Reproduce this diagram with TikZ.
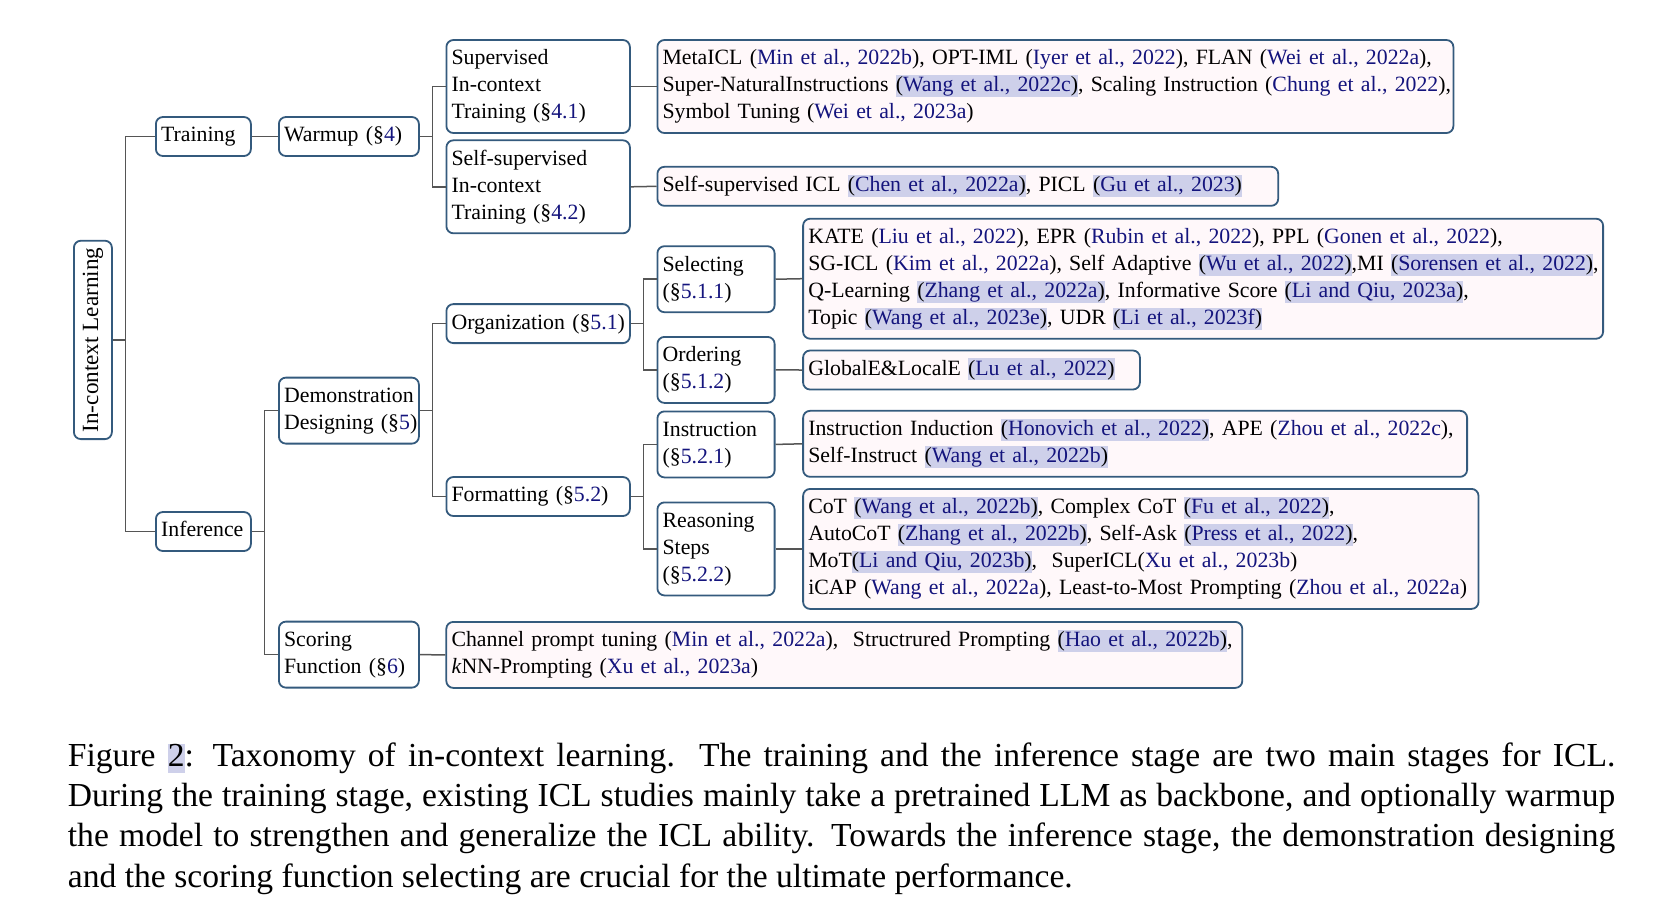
\documentclass[tikz,border=0pt]{standalone}
\usepackage{fontspec}
\setmainfont{Liberation Serif}
\usepackage{xcolor}
\definecolor{boxline}{RGB}{52,90,125}
\definecolor{linkgrey}{RGB}{85,85,85}
\definecolor{leafpink}{RGB}{255,248,250}
\definecolor{citeblue}{RGB}{20,20,125}
\definecolor{hlblue}{RGB}{206,208,234}
\setlength{\fboxsep}{0pt}
% citations, plain and highlighted, and section links
\newcommand{\cit}[1]{(\textcolor{citeblue}{#1})}
\newcommand{\hcit}[1]{\colorbox{hlblue}{\rule[-2.5pt]{0pt}{11pt}(\textcolor{citeblue}{#1})}}
\newcommand{\sect}[1]{(\S\textcolor{citeblue}{#1})}
\newcommand{\rows}[1]{\begin{tabular}{@{}l@{}}#1\end{tabular}}
\begin{document}
\begin{tikzpicture}[x=0.5pt, y=-0.5pt,
  midbox/.style={draw=boxline, line width=0.9pt, rounded corners=3.5pt, fill=white, align=left, anchor=west,
    inner xsep=2.6pt, inner ysep=3pt, font=\fontsize{10.9}{13.5}\selectfont},
  leaf/.style={midbox, fill=leafpink},
  branch/.style={draw=linkgrey, line width=0.75pt}]
\useasboundingbox (0,0) rectangle (1655,912);
% Draw the root, turned on its side
\draw (92.9,339.9) node[midbox, anchor=center, rotate=90, minimum width=99.2pt, minimum height=19pt,
  inner ysep=0pt, font=\fontsize{11.6}{13.5}\selectfont] (icl) {In-context Learning};
% Stages
\draw (155,136.5) node[midbox, text width=42.3pt] (train) {\rows{Training}};
\draw (155,531.5) node[midbox, text width=42.3pt] (infer) {\rows{Inference}};
\draw (278,136.5) node[midbox, text width=64.8pt] (warm) {\rows{Warmup \sect{4}}};
\draw (278,410.6) node[midbox, text width=64.8pt] (demo) {\rows{Demonstration\\Designing \sect{5}}};
\draw (278,654.6) node[midbox, text width=64.8pt] (score) {\rows{Scoring\\Function \sect{6}}};
% Third level
\draw (445.5,86.5) node[midbox, text width=86.55pt] (sup) {\rows{Supervised\\In-context\\Training \sect{4.1}}};
\draw (445.5,186.8) node[midbox, text width=86.55pt] (ssup) {\rows{Self-supervised\\In-context\\Training \sect{4.2}}};
\draw (445.5,323.6) node[midbox, text width=86.55pt] (org) {\rows{Organization \sect{5.1}}};
\draw (445.5,496.5) node[midbox, text width=86.55pt] (fmt) {\rows{Formatting \sect{5.2}}};
% Fourth level
\draw (656.5,279.2) node[midbox, text width=53.4pt] (sel) {\rows{Selecting\\\sect{5.1.1}}};
\draw (656.5,369.9) node[midbox, text width=53.4pt] (ord) {\rows{Ordering\\\sect{5.1.2}}};
\draw (656.5,444.4) node[midbox, text width=53.4pt] (ins) {\rows{Instruction\\\sect{5.2.1}}};
\draw (656.5,548.9) node[midbox, text width=53.4pt] (rea) {\rows{Reasoning\\Steps\\\sect{5.2.2}}};
% The leaves with the works
\draw (656.5,86.5) node[leaf, text width=392.8pt] (lsup) {\rows{MetaICL \cit{Min et al., 2022b}, OPT-IML \cit{Iyer et al., 2022}, FLAN \cit{Wei et al., 2022a},\\
  Super-NaturalInstructions \hcit{Wang et al., 2022c}, Scaling Instruction \cit{Chung et al., 2022},\\
  Symbol Tuning \cit{Wei et al., 2023a}}};
\draw (656.5,186.3) node[leaf, text width=305.2pt] (lssup) {\rows{Self-supervised ICL \hcit{Chen et al., 2022a}, PICL \hcit{Gu et al., 2023}}};
\draw (802.2,278.7) node[leaf, text width=394.8pt] (lsel) {\rows{KATE \cit{Liu et al., 2022}, EPR \cit{Rubin et al., 2022}, PPL \cit{Gonen et al., 2022},\\
  SG-ICL \cit{Kim et al., 2022a}, Self Adaptive \hcit{Wu et al., 2022},MI \hcit{Sorensen et al., 2022},\\
  Q-Learning \hcit{Zhang et al., 2022a}, Informative Score \hcit{Li and Qiu, 2023a},\\
  Topic \hcit{Wang et al., 2023e}, UDR \hcit{Li et al., 2023f}}};
\draw (802.2,370) node[leaf, text width=163.2pt] (lord) {\rows{GlobalE\&LocalE \hcit{Lu et al., 2022}}};
\draw (802.2,443.8) node[leaf, text width=326.8pt] (lins) {\rows{Instruction Induction \hcit{Honovich et al., 2022}, APE \cit{Zhou et al., 2022c},\\
  Self-Instruct \hcit{Wang et al., 2022b}}};
\draw (802.2,548.9) node[leaf, text width=332.5pt] (lrea) {\rows{CoT \hcit{Wang et al., 2022b}, Complex CoT \hcit{Fu et al., 2022},\\
  AutoCoT \hcit{Zhang et al., 2022b}, Self-Ask \hcit{Press et al., 2022},\\
  MoT\hcit{Li and Qiu, 2023b},\ \ SuperICL\cit{Xu et al., 2023b}\\
  iCAP \cit{Wang et al., 2022a}, Least-to-Most Prompting \cit{Zhou et al., 2022a}}};
\draw (445.4,654.9) node[leaf, text width=392.8pt] (lscore) {\rows{Channel prompt tuning \cit{Min et al., 2022a},\ \ Structrured Prompting \hcit{Hao et al., 2022b},\\
  \textit{k}NN-Prompting \cit{Xu et al., 2023a}}};
% Branches: root to the stages, then parent to children over a bus
\draw[branch] (icl.south) -- ++(12.5,0) |- (train.west);
\draw[branch] (icl.south) -- ++(12.5,0) |- (infer.west);
\foreach \p/\c in {warm/sup, warm/ssup, infer/demo, infer/score, demo/org, demo/fmt, org/sel, org/ord, fmt/ins, fmt/rea}
  \draw[branch] (\p.east) -- ++(12.5,0) |- (\c.west);
\foreach \p/\c in {train/warm, sup/lsup, ssup/lssup, sel/lsel, ord/lord, ins/lins, rea/lrea, score/lscore}
  \draw[branch] (\p.east) -- (\c.west);
% Caption under the tree
\draw (67.5,742) node[anchor=north west, inner sep=0pt, align=left, font=\fontsize{16.8}{20.2}\selectfont] (cap)
  {\makebox[773.7pt][s]{Figure \colorbox{hlblue}{\rule[-3.5pt]{0pt}{14.5pt}2}: Taxonomy of in-context learning.\ \ The training and the inference stage are two main stages for ICL.}\\
   \makebox[773.7pt][s]{During the training stage, existing ICL studies mainly take a pretrained LLM as backbone, and optionally warmup}\\
   \makebox[773.7pt][s]{the model to strengthen and generalize the ICL ability. Towards the inference stage, the demonstration designing}\\
   and the scoring function selecting are crucial for the ultimate performance.};
\end{tikzpicture}
\end{document}
